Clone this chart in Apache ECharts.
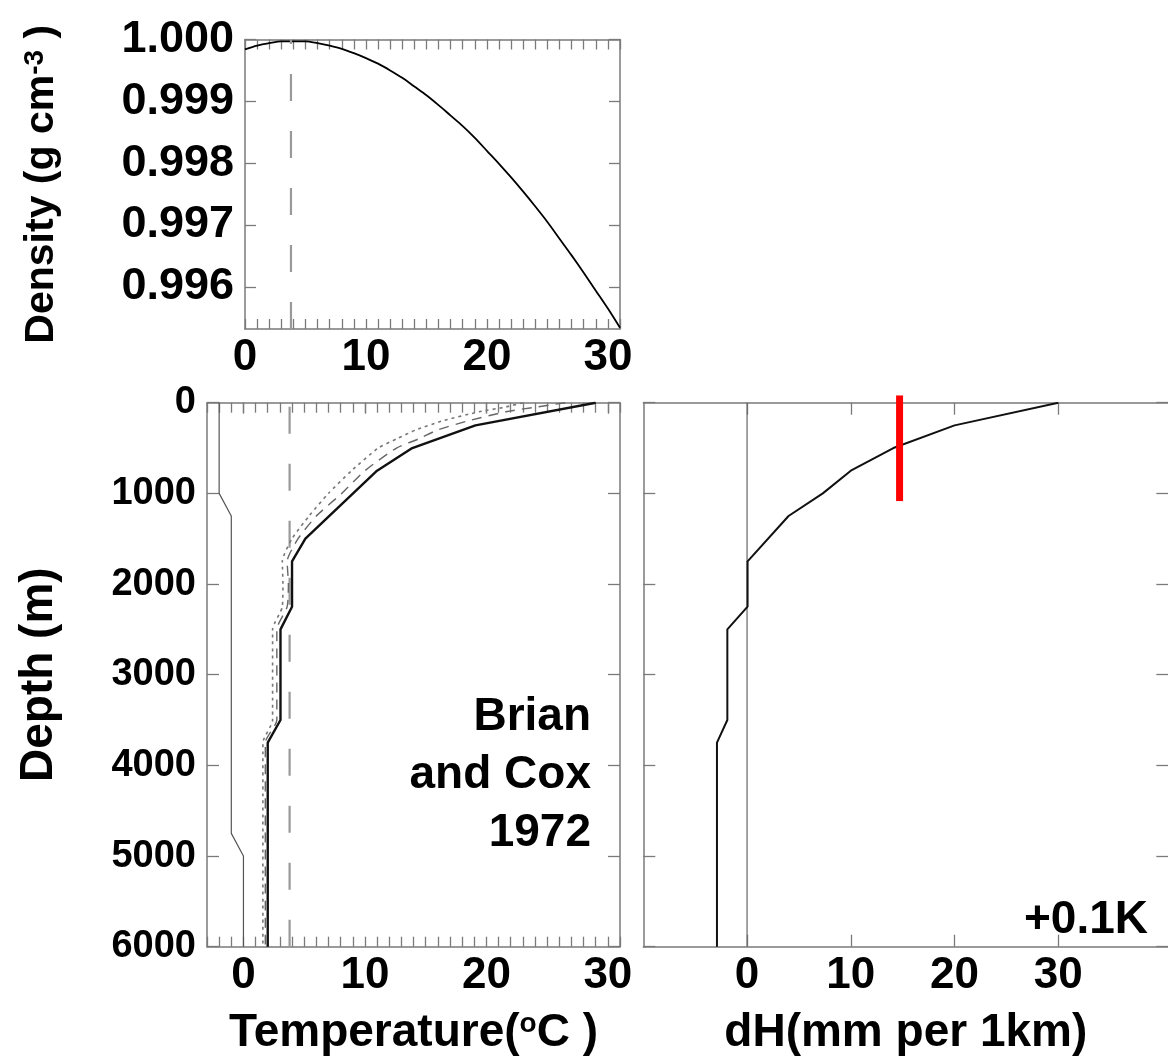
<!DOCTYPE html>
<html>
<head>
<meta charset="utf-8">
<script src="https://cdn.jsdelivr.net/npm/echarts@6/dist/echarts.min.js"></script>
<style>
html,body{margin:0;padding:0;background:#fff;}
#c{width:1168px;height:1061px;}
</style>
</head>
<body>
<div id="c"></div>
<script>
// ---- data ----
const densityT = [0,1,2,3,4,5,6,7,8,9,10,11,12,13,14,15,16,17,18,19,20,21,22,23,24,25,26,27,28,29,30,31];
const densityVal = [0.99984,0.99990,0.99994,0.99997,0.99997,0.99997,0.99994,0.99990,0.99985,0.99978,
  0.99970,0.99961,0.99950,0.99938,0.99924,0.99910,0.99894,0.99877,0.99860,0.99841,
  0.99820,0.99799,0.99777,0.99754,0.99730,0.99705,0.99678,0.99651,0.99623,0.99594,0.99565,0.99534];
const tMaxDensity = 3.8;

const solidDepth = [0,250,500,750,1500,1750,2250,2500,3500,3750,6000];
const tempSolid  = [29.0,19.1,13.9,11.0,5.1,4.0,4.0,3.05,3.05,2.0,2.0];

const profDepth  = [0,50,100,200,300,400,500,750,1000,1250,1500,1750,2000,2250,2500,3500,3750,6000];
const tempDashed = [26.5,24.0,21.6,18.5,16.0,14.4,12.6,10.0,8.1,6.0,4.5,3.6,3.7,3.6,2.75,2.75,1.8,1.8];
const tempDotted = [23.0,21.5,19.4,16.4,14.2,12.6,11.1,8.9,7.0,5.4,4.0,3.2,3.25,3.2,2.4,2.4,1.6,1.6];

const thinDepth = [0,1000,1250,4750,5000,6000];
const thinVal   = [-2,-2,-1,-1,0,0];

const dhDepth = [0,250,500,750,1000,1250,1750,2250,2500,3500,3750,6000];
const dhVal   = [30,20,14.1,10,7.3,4,0.05,0.05,-1.9,-1.9,-2.9,-2.9];

const redX = 14.7;
const redDepth = [-80,1085];

const densityTicks = [0.996,0.997,0.998,0.999,1.000];
const tempTicks = [0,10,20,30];
const depthTicks = [0,1000,2000,3000,4000,5000,6000];
const dhTicks = [0,10,20,30];

// ---- helpers ----
const pairs = (xs, ys) => xs.map((x,i)=>[x, ys[i]]);
const pairsY = (depths, vals) => depths.map((d,i)=>[vals[i], d]);
const FONT = 'Liberation Sans';
const GRAY = '#7a7a7a';
const lineStyleAxis = {color: GRAY, width: 1.5};

function xAx(grid, pos, min, max, opts) {
  return Object.assign({
    type:'value', gridIndex:grid, position:pos, min:min, max:max,
    axisLine:{show:true, onZero:false, lineStyle:lineStyleAxis},
    splitLine:{show:false},
    axisTick:{show:true, inside:true, length:10, lineStyle:{color:GRAY, width:1.3}},
    axisLabel:{show:false}
  }, opts);
}
function yAx(grid, pos, min, max, opts) {
  return Object.assign({
    type:'value', gridIndex:grid, position:pos, min:min, max:max,
    axisLine:{show:true, onZero:false, lineStyle:lineStyleAxis},
    splitLine:{show:false},
    axisTick:{show:true, inside:true, length:12, lineStyle:{color:GRAY, width:1.3}},
    axisLabel:{show:false}
  }, opts);
}
const labelStyle = {show:true, fontFamily:FONT, fontWeight:'bold', fontSize:44, color:'#000'};
const nameStyle = {fontFamily:FONT, fontWeight:'bold', fontSize:46, color:'#000',
  rich:{sup:{fontFamily:FONT, fontWeight:'bold', fontSize:28, color:'#000', verticalAlign:'top'}}};

const dMin = 0.99532, dMax = 1.0;

const option = {
  animation:false,
  backgroundColor:'#fff',
  grid:[
    {left:245, top:39.5, width:375, height:289.5, outerBoundsMode:'none', containLabel:false},
    {left:207, top:402.7, width:413, height:544, outerBoundsMode:'none', containLabel:false},
    {left:643.3, top:402.7, width:525, height:544, outerBoundsMode:'none', containLabel:false}
  ],
  xAxis:[
    xAx(0,'bottom',0,31,{interval:1,
      axisLabel:Object.assign({}, labelStyle, {margin:7, customValues:tempTicks})}),
    xAx(0,'top',0,31,{interval:1}),
    xAx(1,'bottom',-3,31,{interval:1,
      axisLabel:Object.assign({}, labelStyle, {margin:7, customValues:tempTicks}),
      name:'Temperature({sup|o}C )', nameLocation:'middle', nameGap:64, nameTextStyle:nameStyle}),
    xAx(1,'top',-3,31,{interval:1}),
    xAx(1,'bottom',-3,31,{axisLine:{show:false}, axisTick:{show:true, inside:false, length:11, customValues:tempTicks, lineStyle:{color:GRAY, width:1.3}}}),
    xAx(2,'bottom',-10,40.6,{
      axisTick:{show:true, inside:true, length:12, customValues:dhTicks, lineStyle:{color:GRAY, width:1.3}},
      axisLabel:Object.assign({}, labelStyle, {margin:7, customValues:dhTicks}),
      name:'dH(mm per 1km)', nameLocation:'middle', nameGap:64, nameTextStyle:nameStyle}),
    xAx(2,'top',-10,40.6,{
      axisTick:{show:true, inside:true, length:12, customValues:dhTicks, lineStyle:{color:GRAY, width:1.3}}})
  ],
  yAxis:[
    yAx(0,'left',dMin,dMax,{
      axisTick:{show:true, inside:true, length:11, customValues:densityTicks, lineStyle:{color:GRAY, width:1.3}},
      axisLabel:Object.assign({}, labelStyle, {fontSize:45, margin:11, customValues:densityTicks, formatter:v=>v.toFixed(3)}),
      name:'Density (g cm{sup|-3} )', nameLocation:'middle', nameGap:183, nameTextStyle:Object.assign({}, nameStyle, {fontSize:41})}),
    yAx(0,'right',dMin,dMax,{
      axisTick:{show:true, inside:true, length:11, customValues:densityTicks, lineStyle:{color:GRAY, width:1.3}}}),
    yAx(1,'left',0,6000,{inverse:true, interval:1000,
      axisLabel:Object.assign({}, labelStyle, {fontSize:38, margin:11,
        customValues:depthTicks, formatter:v=>String(v)}),
      name:'Depth (m)', nameLocation:'middle', nameGap:145, nameTextStyle:nameStyle}),
    yAx(1,'right',0,6000,{inverse:true, interval:1000}),
    yAx(2,'left',0,6000,{inverse:true, interval:1000}),
    yAx(2,'right',0,6000,{inverse:true, interval:1000})
  ],
  graphic:[
    {type:'text', x:591, y:688, z:100, style:{text:'Brian\nand Cox\n1972', align:'right', verticalAlign:'top',
      font:'bold 46px "Liberation Sans"', lineHeight:58, fill:'#000'}},
    {type:'text', x:1148, y:920, z:100, style:{text:'+0.1K', align:'right', verticalAlign:'middle',
      font:'bold 46px "Liberation Sans"', fill:'#000'}}
  ],
  series:[
    {type:'line', xAxisIndex:0, yAxisIndex:0, data:pairs(densityT, densityVal), smooth:0.3, symbol:'none',
      lineStyle:{color:'#000', width:1.8}},
    {type:'line', xAxisIndex:0, yAxisIndex:0, data:[[tMaxDensity,dMin],[tMaxDensity,dMax]], symbol:'none',
      lineStyle:{color:'#999', width:2.2, type:[27,30]}},
    {type:'line', xAxisIndex:2, yAxisIndex:2, data:pairsY(thinDepth, thinVal), symbol:'none',
      lineStyle:{color:'#555', width:1.2}},
    {type:'line', xAxisIndex:2, yAxisIndex:2, data:[[tMaxDensity,6000],[tMaxDensity,0]], symbol:'none',
      lineStyle:{color:'#999', width:2.2, type:[27,30]}},
    {type:'line', xAxisIndex:2, yAxisIndex:2, data:pairsY(profDepth, tempDotted), symbol:'none', smooth:0.2,
      lineStyle:{color:'#777', width:1.6, type:[3,4]}},
    {type:'line', xAxisIndex:2, yAxisIndex:2, data:pairsY(profDepth, tempDashed), symbol:'none', smooth:0.2,
      lineStyle:{color:'#666', width:1.4, type:[10,7]}},
    {type:'line', xAxisIndex:2, yAxisIndex:2, data:pairsY(solidDepth, tempSolid), symbol:'none',
      lineStyle:{color:'#111', width:2.4}},
    {type:'line', xAxisIndex:5, yAxisIndex:4, data:[[0,0],[0,6000]], symbol:'none',
      lineStyle:{color:'#666', width:1.2}},
    {type:'line', xAxisIndex:5, yAxisIndex:4, data:pairsY(dhDepth, dhVal), symbol:'none',
      lineStyle:{color:'#111', width:2}},
    {type:'line', xAxisIndex:5, yAxisIndex:4, data:[[redX,redDepth[0]],[redX,redDepth[1]]], symbol:'none', clip:false, z:10,
      lineStyle:{color:'#ff0000', width:7, cap:'butt'}}
  ]
};
const chart = echarts.init(document.getElementById('c'), null, {renderer:'canvas'});
chart.setOption(option);
</script>
</body>
</html>
